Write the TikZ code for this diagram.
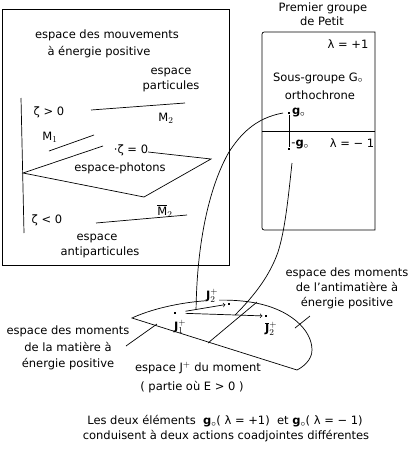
\documentclass[tikz,border=0pt]{standalone}
\usepackage{fontspec}
\setmainfont{DejaVu Sans}
\DeclareMathSizes{11.5}{11.5}{9}{7}
\usetikzlibrary{calc}

\begin{document}
\begin{tikzpicture}[x=1pt, y=-1pt, line width=0.7pt,
  font=\fontsize{11.5}{14}\selectfont,
  dot/.style={fill, inner sep=0pt, minimum size=2.6pt},
  blank/.style={fill=white, inner sep=1pt}]
\useasboundingbox (0,0) rectangle (409,474);

% espace des mouvements
\draw (2,9) rectangle (229,265);
\node (mvt1) at (107,35) {espace des mouvements};
\node (mvt2) at (99,52) {à énergie positive};
\node (part1) at (171,72) {espace};
\node (part2) at (171,86) {particules};
\draw (21,98) -- (24,233);
\node (zpos) at (49,112) {ζ > 0};
\draw (91,110) -- (185,103);
\node (M2) at (166,118) {M$_2$};
\node (M1) at (50,137) {M$_1$};
\draw (49,151) -- (94,135);
\draw (103,146) -- (23,173) -- (144,197) -- (211,159) -- (148,152);
\node (zzero) at (131,150) {·ζ = 0};
\node (phot) at (120,168) {espace-photons};
\node (M2bar) at (165,211) {$\overline{\mbox{M}}_2$};
\node (zneg) at (47,220) {ζ < 0};
\draw (96,223) -- (187,215);
\node (anti1) at (97,238) {espace};
\node (anti2) at (100,252) {antiparticules};

% premier groupe de Petit
\node (pg1) at (323,8) {Premier groupe};
\node (pg2) at (322,21) {de Petit};
\draw (375,32) -- (267,32) .. controls (262,32) .. (262,37) -- (262,225)
  .. controls (262,230) .. (267,230) -- (375,230) -- cycle;
\draw (262,131) -- (375,131);
\node (lp) at (348,44) {λ = +1};
\node (sg1) at (318,78) {Sous-groupe G$_\circ$};
\node (sg2) at (320,95) {orthochrone};
\node (gp) [dot] at (289,113) {};
\node (gm) [dot] at (289,149) {};
\draw (gp) -- (gm);
\node (gplbl) [right, inner sep=1pt] at (gp.east) {\textbf{g}$_\circ$};
\node (gmlbl) [right, inner sep=1pt] at (290,145) {-\textbf{g}$_\circ$};
\node (lm) at (352,143) {λ = − 1};

% espace J+ du moment
\draw (132,318) .. controls (160,305) and (210,296) .. (250,302)
  .. controls (290,308) and (312,330) .. (312,350)
  .. controls (312,360) and (303,367) .. (297,370) -- cycle;
\draw (208,343) -- (257,302);
\node (J2lbl) [blank] at (212,296) {\textbf{J}$^+_2$};
\node (J1) [dot] at (175,313) {};
\node (J2) [dot] at (229,304) {};
\node (J2b) [dot] at (266,316) {};
\draw [->, shorten <=9pt, shorten >=2pt] (J1) -- (J2);
\draw [->, shorten <=9pt, shorten >=2pt] (J1) -- (J2b);
\node (J1lbl) at (180,327) {\textbf{J}$^+_1$};
\node (J2blbl) at (271,329) {$\overline{\mbox{\textbf{J}}}{}^+_2$};
\coordinate (hitA) at ($(J1)!0.39!(J2)$);
\coordinate (hitB) at ($(J1)!0.66!(J2b)$);

% actions de g0 et -g0
\draw ([xshift=-6pt]gp.center) .. controls (255,118) and (240,135) .. (229,152)
  .. controls (210,185) and (197,240) .. (hitA);
\draw ([shift={(3,14)}]gm.center) .. controls (288,200) and (285,230) .. (278,252)
  .. controls (270,275) and (255,295) .. (hitB);

\node (matter) [align=center, font=\fontsize{11.5}{16.5}\selectfont] at (68,348)
  {espace des moments\\de la matière à\\énergie positive};
\coordinate (mfoot) at (126,346);
\coordinate (mtip) at (157,324);
\draw (mfoot) -- (mtip);
\node (antimat) [align=center, font=\fontsize{11.5}{15}\selectfont] at (347,288)
  {espace des moments\\de l'antimatière à\\énergie positive};
\coordinate (afoot) at (295,328);
\coordinate (atip) at (310,316);
\draw (afoot) -- (atip);
\node (Jspace) at (198,368) {espace J$^+$ du moment};
\node (Epos) at (192,387) {( partie où E > 0 )};

\node (concl1) at (225,421) {Les deux éléments \ \textbf{g}$_\circ$( λ = +1) \ et \textbf{g}$_\circ$( λ = − 1)};
\node (concl2) at (226,436) {conduisent à deux actions coadjointes différentes};
\end{tikzpicture}
\end{document}
